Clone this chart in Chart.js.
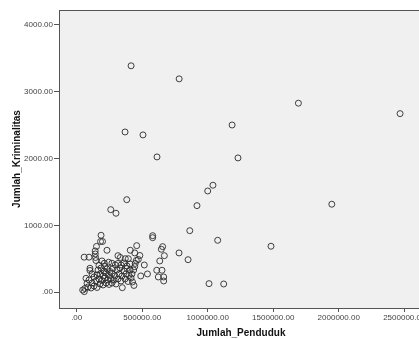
<!DOCTYPE html>
<html>
<head>
<meta charset="utf-8">
<script src="https://cdn.jsdelivr.net/npm/chart.js"></script>
<style>
  html, body { margin: 0; padding: 0; background: #fff; overflow: hidden; }
  #wrap { width: 440px; height: 339px; }
</style>
</head>
<body>
<div id="wrap"><canvas id="scatterChart" width="440" height="339"></canvas></div>
<script>
// Jumlah_Penduduk (x) vs Jumlah_Kriminalitas (y)
const penduduk = [
  415000, 782000, 1692000, 2468000, 1186000, 369000, 506000, 613000, 1231000, 1947000,
  1040000, 1000000, 918000, 382000, 260000, 300000, 863000, 1076000, 1483000, 1010000,
  1122000, 580000, 580000, 781000, 850000, 656000, 646000, 669000, 634000, 611000,
  651000, 623000, 664000, 664000, 516000, 540000, 489000, 458000, 409000, 443000,
  482000, 470000, 455000, 447000, 443000, 435000, 394000, 371000, 315000, 333000,
  186000, 182000, 197000, 151000, 141000, 142000, 144000, 147000, 57000, 94000,
  231000, 193000, 211000, 244000, 269000, 295000, 101000, 101000, 71000, 79000,
  46000, 58000, 348000,
  63000, 86000, 109000, 132000, 155000,
  178000, 201000, 224000, 247000, 270000, 300000, 117000, 147000,
  94000, 170000, 193000, 216000, 239000, 262000, 285000, 315000, 338000, 369000, 392000, 415000, 132000,
  155000, 178000, 201000, 224000, 247000, 270000, 292000, 323000, 346000, 376000, 399000, 422000, 117000,
  163000, 186000, 208000, 231000, 254000, 277000, 308000, 331000, 361000, 384000, 407000,
  339000, 361000, 384000, 407000, 315000, 216000, 170000,
  426000, 437000
];
const kriminalitas = [
  3385, 3190, 2826, 2670, 2500, 2396, 2352, 2023, 2008, 1316,
  1600, 1514, 1295, 1384, 1235, 1181, 921, 777, 688, 129,
  124, 846, 816, 588, 487, 682, 643, 547, 468, 329,
  329, 229, 229, 169, 408, 274, 244, 697, 628, 588,
  550, 490, 475, 431, 383, 333, 502, 502, 547, 520,
  852, 759, 759, 685, 617, 573, 520, 475, 525, 525,
  628, 468, 434, 449, 434, 408, 359, 326, 209, 135,
  34, 10, 69,
  57, 79, 64, 94, 72,
  124, 109, 139, 117, 139, 124, 139, 169,
  184, 199, 176, 214, 184, 206, 184, 199, 169, 199, 161, 214, 229,
  259, 274, 244, 289, 251, 281, 244, 274, 244, 274, 251, 274, 274,
  333, 363, 318, 348, 311, 356, 333, 363, 318, 356, 333,
  408, 438, 393, 423, 431, 386, 401,
  154, 102
];
const xTicks = [0, 500000, 1000000, 1500000, 2000000, 2500000];
const yTicks = [0, 1000, 2000, 3000, 4000];

const points = penduduk.map((v, i) => ({ x: v, y: kriminalitas[i] }));

const fmt = (v) => v === 0 ? '.00' : v.toFixed(2);

// fond gris et cadre de la zone de tracé
const plotFrame = {
  id: 'plotFrame',
  beforeDraw: (chart) => {
    const { ctx, chartArea: a } = chart;
    ctx.save();
    ctx.fillStyle = '#f0f0f0';
    ctx.fillRect(a.left, a.top, a.right - a.left, a.bottom - a.top);
    ctx.restore();
  },
  afterDraw: (chart) => {
    const { ctx, chartArea: a } = chart;
    ctx.save();
    ctx.strokeStyle = '#555';
    ctx.lineWidth = 1;
    ctx.strokeRect(Math.round(a.left) + 0.5, Math.round(a.top) + 0.5, a.right - a.left, a.bottom - a.top);
    ctx.restore();
  }
};

const tickFont = { family: 'Liberation Sans, Arial, sans-serif', size: 8 };
const titleFont = { family: 'Liberation Sans, Arial, sans-serif', size: 10, weight: 'bold' };

new Chart(document.getElementById('scatterChart').getContext('2d'), {
  type: 'scatter',
  data: {
    datasets: [{
      data: points,
      pointStyle: 'circle',
      pointRadius: 3,
      pointBorderWidth: 1,
      borderColor: 'rgba(45,45,45,0.9)',
      backgroundColor: 'rgba(0,0,0,0)'
    }]
  },
  options: {
    responsive: false,
    animation: false,
    layout: { padding: { top: 10, right: 17, left: 0, bottom: 0 } },
    plugins: { legend: { display: false }, tooltip: { enabled: false } },
    scales: {
      x: {
        type: 'linear',
        min: -135000,
        max: 2643000,
        afterBuildTicks: (s) => { s.ticks = xTicks.map(v => ({ value: v })); },
        afterFit: (s) => { s.height = 31; },
        grid: { drawOnChartArea: false, drawTicks: true, tickLength: 4, tickColor: '#555' },
        border: { display: true, color: '#555' },
        ticks: { font: tickFont, color: '#444', padding: 1, maxRotation: 0, callback: fmt },
        title: { display: true, text: 'Jumlah_Penduduk', font: titleFont, color: '#111', padding: { top: 0, bottom: 0 } }
      },
      y: {
        type: 'linear',
        min: -235,
        max: 4219,
        afterBuildTicks: (s) => { s.ticks = yTicks.map(v => ({ value: v })); },
        afterFit: (s) => { s.width = 59; },
        grid: { drawOnChartArea: false, drawTicks: true, tickLength: 5, tickColor: '#555' },
        border: { display: true, color: '#555' },
        ticks: { font: tickFont, color: '#444', padding: 1, callback: fmt },
        title: { display: true, text: 'Jumlah_Kriminalitas', font: titleFont, color: '#111', padding: { top: 11, bottom: 0 } }
      }
    }
  },
  plugins: [plotFrame]
});
</script>
</body>
</html>
